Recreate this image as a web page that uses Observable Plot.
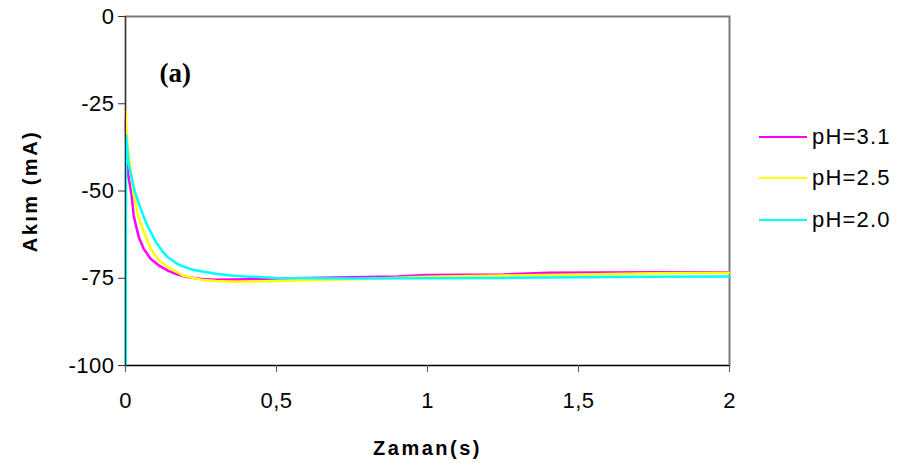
<!DOCTYPE html>
<html><head><meta charset="utf-8">
<script src="https://cdn.jsdelivr.net/npm/d3@7"></script>
<script src="https://cdn.jsdelivr.net/npm/@observablehq/plot@0.6"></script>
<style>
body{margin:0;background:#fff;}
#wrap{position:relative;width:905px;height:472px;font-family:"Liberation Sans",Arial,sans-serif;}
#legend{position:absolute;left:759px;top:0;}
.item{position:absolute;left:0;white-space:nowrap;display:flex;align-items:center;height:24px;font-size:22px;letter-spacing:1.2px;color:#000;}
.sw{width:48px;height:2px;margin-right:5px;}
</style></head><body>
<div id="wrap"><div id="chart"></div><div id="legend"></div></div>
<script>
// Series names and colours
const seriesNames = ["pH=3.1", "pH=2.5", "pH=2.0"];
const seriesColors = ["#FF00FF", "#FFFF00", "#00FFFF"];

// pH=3.1 (magenta)
const tMag = [0, 0.003, 0.01, 0.02, 0.027, 0.035, 0.045, 0.06, 0.083, 0.11, 0.14, 0.17, 0.2, 0.25, 0.3, 0.4, 0.5, 0.75, 0.9, 1.0, 1.25, 1.4, 1.75, 2.0];
const vMag = [-27, -40, -46, -51, -57, -60, -63.5, -66.5, -69.4, -71.3, -72.8, -73.9, -74.6, -75.2, -75.4, -75.3, -75.1, -74.7, -74.5, -74.1, -73.9, -73.4, -73.3, -73.3];

// pH=2.5 (yellow)
const tYel = [0, 0.003, 0.008, 0.017, 0.027, 0.043, 0.06, 0.083, 0.11, 0.14, 0.17, 0.19, 0.25, 0.3, 0.36, 0.5, 0.6, 0.75, 1.0, 1.25, 1.5, 1.75, 2.0];
const vYel = [-27, -32, -38, -44, -51, -57.5, -61.5, -66.5, -69.8, -71.8, -73.2, -74.2, -75.4, -75.8, -76, -75.8, -75.6, -75.3, -74.6, -74.2, -73.9, -73.6, -73.4];

// pH=2.0 (cyan)
const tCya = [0, 0.002, 0.01, 0.02, 0.03, 0.05, 0.07, 0.085, 0.1, 0.12, 0.14, 0.17, 0.19, 0.22, 0.25, 0.3, 0.35, 0.4, 0.5, 0.75, 1.0, 1.25, 1.5, 1.75, 2.0];
const vCya = [-100, -34, -42, -46, -50, -55, -59.5, -62, -64.5, -67, -69, -70.8, -71.6, -72.5, -73, -73.7, -74.2, -74.5, -74.9, -75.1, -75, -74.9, -74.7, -74.6, -74.5];

// Axis ticks
const xTicks = [0, 0.5, 1, 1.5, 2];
const xTickLabels = ["0", "0,5", "1", "1,5", "2"];
const yTicks = [0, -25, -50, -75, -100];
const yTickLabels = ["0", "-25", "-50", "-75", "-100"];

const seriesT = [tMag, tYel, tCya];
const seriesV = [vMag, vYel, vCya];
const rows = [];
seriesNames.forEach((name, i) => seriesT[i].forEach((t, j) => rows.push({series: name, t, v: seriesV[i][j]})));

const xDomain = [xTicks[0], xTicks[xTicks.length - 1]];
const yDomain = [d3.min(yTicks), d3.max(yTicks)];

const chart = Plot.plot({
  width: 905, height: 472,
  marginLeft: 125, marginRight: 176, marginTop: 16, marginBottom: 107,
  x: {domain: xDomain},
  y: {domain: yDomain},
  color: {domain: seriesNames, range: seriesColors},
  style: {fontFamily: "'Liberation Sans', Arial, sans-serif", fontSize: "22px", background: "white", color: "black", letterSpacing: "0.5px", overflow: "visible"},
  marks: [
    Plot.frame({stroke: "#7a7a7a", strokeWidth: 2}),
    Plot.line(rows, {x: "t", y: "v", z: "series", stroke: "series", strokeWidth: 2.5}),
    Plot.ruleY([yDomain[0]], {stroke: "black", strokeWidth: 1.2}),
    Plot.ruleX([xDomain[0]], {stroke: "#333", strokeWidth: 1}),
    Plot.axisX({ticks: xTicks, tickFormat: d => xTickLabels[xTicks.indexOf(d)], tickSize: 7, tickPadding: 20, label: null, fontSize: 22, stroke: "#555"}),
    Plot.axisY({ticks: yTicks, tickFormat: d => yTickLabels[yTicks.indexOf(d)], tickSize: 7, tickPadding: 4, label: null, fontSize: 22, stroke: "#333"}),
    Plot.text(["Zaman(s)"], {frameAnchor: "bottom", dy: 83, fontWeight: "bold", fontSize: 20, textAnchor: "middle", lineAnchor: "middle", style: "letter-spacing:2.5px"}),
    Plot.text(["Akım (mA)"], {frameAnchor: "left", dx: -95, rotate: -90, fontWeight: "bold", fontSize: 20, textAnchor: "middle", lineAnchor: "middle"}),
    Plot.text(["(a)"], {frameAnchor: "top-left", dx: 34, dy: 57, fontFamily: "'Liberation Serif', 'Times New Roman', serif", fontWeight: "bold", fontSize: 27, textAnchor: "start", lineAnchor: "middle"})
  ]
});
document.getElementById("chart").appendChild(chart);
// wider spacing for axis titles, as in the reference
d3.select(chart).selectAll("text").filter(function() { return this.textContent === "Zaman(s)" || this.textContent === "Akım (mA)"; }).style("letter-spacing", "2.5px");
d3.select(chart).selectAll("text").filter(function() { return this.textContent === "(a)"; }).style("letter-spacing", "0px");

const legend = document.getElementById("legend");
const legendY = [137, 178, 220];
seriesNames.forEach((name, i) => {
  const item = document.createElement("div");
  item.className = "item";
  item.style.top = (legendY[i] - 12) + "px";
  const sw = document.createElement("div");
  sw.className = "sw";
  sw.style.background = seriesColors[i];
  const label = document.createElement("span");
  label.textContent = name;
  item.appendChild(sw);
  item.appendChild(label);
  legend.appendChild(item);
});
</script>
</body></html>
